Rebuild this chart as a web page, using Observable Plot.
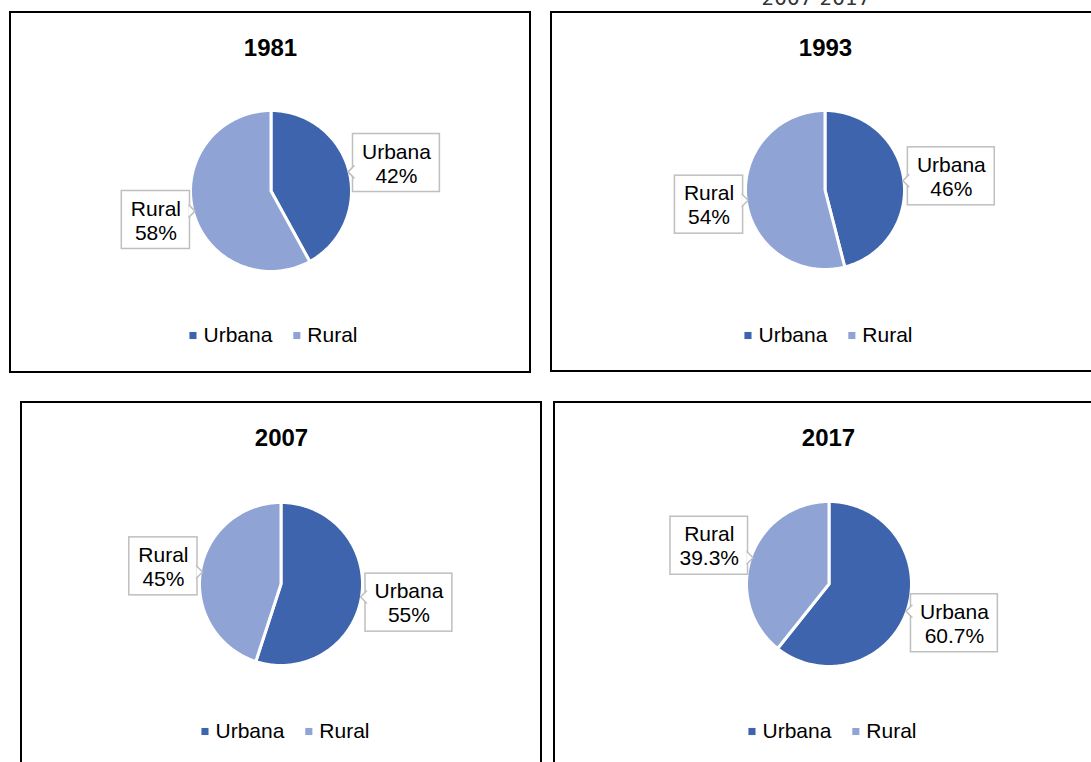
<!DOCTYPE html>
<html><head><meta charset="utf-8">
<script src="https://cdn.jsdelivr.net/npm/d3@7"></script>
<script src="https://cdn.jsdelivr.net/npm/@observablehq/plot@0.6"></script>
<style>
html,body{margin:0;padding:0;background:#fff;width:1091px;height:762px;overflow:hidden;position:relative;font-family:"Liberation Sans",Arial,sans-serif;}
.panel{position:absolute;border:2px solid #000;box-sizing:border-box;background:#fff;overflow:hidden;}
.panel svg{display:block;}
#top{position:absolute;left:716px;width:200px;top:-12px;text-align:center;font-family:"DejaVu Sans",sans-serif;font-size:20px;line-height:20px;color:#333;}
</style></head><body>
<div id="top"></div>
<script>
// ---- data ----
const topText = "2007-2017";
const years = ["1981", "1993", "2007", "2017"];
const categories = ["Urbana", "Rural"];
const urbanaShare = [42, 46, 55, 60.7];
const ruralShare = [58, 54, 45, 39.3];
const shareLabels = [["42%", "58%"], ["46%", "54%"], ["55%", "45%"], ["60.7%", "39.3%"]];

// ---- styles / layout ----
const colors = ["#3E64AD", "#8FA4D5"];
const layout = [
  {left: 9,   top: 11,  w: 522, h: 362, cx: 260, cy: 178, r: 79, titleY: 35, legendY: 322, legendDx: 3},
  {left: 550, top: 11,  w: 550, h: 361, cx: 273, cy: 177, r: 78, titleY: 35, legendY: 322, legendDx: 3},
  {left: 20,  top: 401, w: 522, h: 380, cx: 259, cy: 181, r: 80, titleY: 35, legendY: 328, legendDx: 4},
  {left: 553, top: 401, w: 550, h: 380, cx: 274, cy: 181, r: 81, titleY: 35, legendY: 328, legendDx: 4}
];
const FONT = "Liberation Sans, Arial, sans-serif";
const labelSize = 21, titleSize = 24;

document.getElementById("top").textContent = topText;

const ctx = document.createElement("canvas").getContext("2d");
function textWidth(s, size, weight = "normal") {
  ctx.font = `${weight} ${size}px "Liberation Sans", Arial, sans-serif`;
  return ctx.measureText(s).width;
}

years.forEach((year, i) => {
  const L = layout[i];
  const W = L.w - 4, H = L.h - 4;
  const R = L.r + 1.5;
  const shares = [urbanaShare[i], ruralShare[i]];
  const total = d3.sum(shares);

  // slices
  const wedges = [];
  const boxes = [];
  const pointers = [];
  let a = 0;
  categories.forEach((cat, j) => {
    const a0 = a, a1 = a + shares[j] / total * 2 * Math.PI;
    a = a1;
    const n = Math.max(2, Math.ceil((a1 - a0) / (Math.PI / 180)));
    for (let k = 0; k <= n; k++) {
      const t = a0 + (a1 - a0) * k / n;
      wedges.push({cat, x2: L.cx + R * Math.sin(t), y2: L.cy - R * Math.cos(t)});
    }
    // label box
    const m = (a0 + a1) / 2;
    const dx = Math.sin(m), dy = -Math.cos(m);
    const side = dx >= 0 ? 1 : -1;
    const ex = L.cx + L.r * dx, ey = L.cy + L.r * dy;
    const bw = Math.max(textWidth(cat, labelSize), textWidth(shareLabels[i][j], labelSize)) + 18;
    const bh = 58;
    const bcy = L.cy + 1.45 * L.r * dy;
    let x1, x2;
    if (side > 0) { x1 = ex + 5; x2 = x1 + bw; } else { x2 = ex - 5; x1 = x2 - bw; }
    boxes.push({cat, x1, x2, y1: bcy - bh / 2, y2: bcy + bh / 2, xc: (x1 + x2) / 2, yc: bcy,
      text: cat + "\n" + shareLabels[i][j]});
    const edgeX = side > 0 ? x1 : x2;
    const py = Math.max(bcy - bh / 2 + 9, Math.min(bcy + bh / 2 - 9, ey));
    const tipX = edgeX - side * 5;
    pointers.push({id: j, x: edgeX + side * 1, y: py - 6});
    pointers.push({id: j, x: tipX, y: py});
    pointers.push({id: j, x: edgeX + side * 1, y: py + 6});
  });

  // legend
  const mk = 7, gap = 7, between = 21;
  const tw = categories.map(c => textWidth(c, labelSize));
  const totalW = mk + gap + tw[0] + between + mk + gap + tw[1];
  let lx = W / 2 + L.legendDx - totalW / 2;
  const legend = categories.map((cat, j) => {
    const item = {cat, mx: lx + mk / 2, tx: lx + mk + gap};
    lx += mk + gap + tw[j] + between;
    return item;
  });

  const plot = Plot.plot({
    width: W, height: H,
    margin: 0,
    x: {domain: [0, W], range: [0, W], axis: null},
    y: {domain: [0, H], range: [0, H], axis: null},
    color: {domain: categories, range: colors},
    style: {fontFamily: FONT, background: "white", overflow: "visible"},
    marks: [
      Plot.text([year], {x: W / 2, y: L.titleY, text: d => d, fontSize: titleSize, fontWeight: "bold", fill: "black"}),
      Plot.area(wedges, {x1: L.cx, y1: L.cy, x2: "x2", y2: "y2", z: "cat", fill: "cat", stroke: "white", strokeWidth: 3, curve: "linear"}),
      Plot.rect(boxes, {x1: "x1", x2: "x2", y1: "y1", y2: "y2", fill: "white", stroke: "#BFBFBF", strokeWidth: 1.5}),
      Plot.line(pointers, {x: "x", y: "y", z: "id", fill: "white", stroke: "#BFBFBF", strokeWidth: 1.5}),
      Plot.text(boxes, {x: "xc", y: "yc", text: "text", fontSize: labelSize, lineHeight: 24 / 21, fill: "black"}),
      Plot.dot(legend, {x: "mx", y: L.legendY, fill: "cat", symbol: "square", r: 4}),
      Plot.text(legend, {x: "tx", y: L.legendY, text: "cat", textAnchor: "start", fontSize: labelSize, fill: "black"})
    ]
  });

  const div = document.createElement("div");
  div.className = "panel";
  div.style.left = L.left + "px";
  div.style.top = L.top + "px";
  div.style.width = L.w + "px";
  div.style.height = L.h + "px";
  div.appendChild(plot);
  document.body.appendChild(div);
});
</script>
</body></html>
